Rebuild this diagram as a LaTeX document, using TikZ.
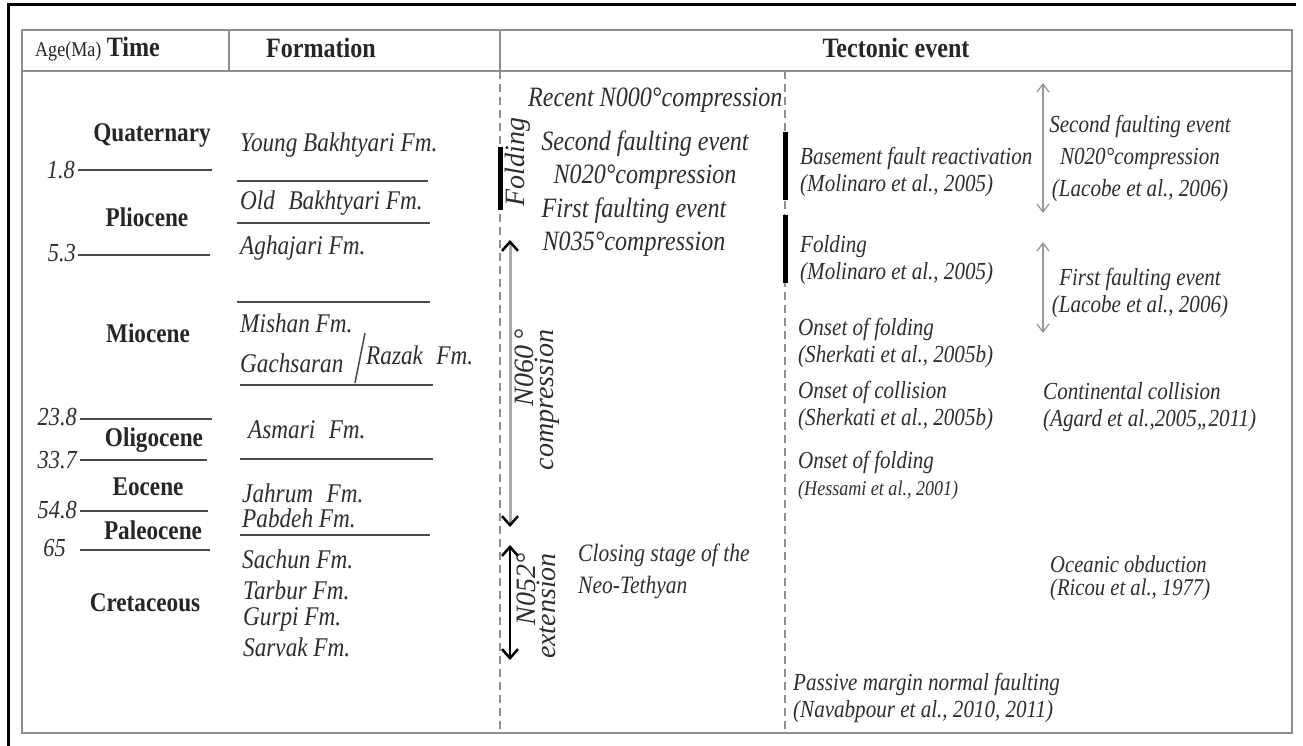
\documentclass[tikz,border=0pt]{standalone}
\usepackage{fontspec}
\setmainfont{Liberation Serif}[FakeStretch=0.86]
\newfontfamily\fullserif{Liberation Serif}
\usetikzlibrary{arrows.meta}

\definecolor{ink}{HTML}{2E2E2E}
\definecolor{rulegray}{HTML}{4A4A4A}
\definecolor{framegray}{HTML}{8E8E8E}
\definecolor{shaftgray}{HTML}{AAAAAA}

\tikzset{
  every node/.style={inner sep=0pt},
  head/.style={font=\fontsize{28}{28}\selectfont\bfseries, text=black!85},
  epoch/.style={font=\fontsize{27}{27}\selectfont\bfseries, text=black!85},
  agelbl/.style={font=\fontsize{26}{26}\selectfont\itshape, text=ink, anchor=east},
  fmname/.style={font=\fontsize{27}{27}\selectfont\itshape, text=ink, anchor=west},
  evmid/.style={font=\fontsize{28}{33}\selectfont\itshape, text=ink, align=center},
  evtext/.style={font=\fontsize{24.5}{27}\selectfont\itshape, text=ink, align=left, anchor=west},
  vlabel/.style={font=\fullserif\fontsize{28}{20}\selectfont\itshape, text=ink, rotate=90, align=right},
  boundary/.style={draw=rulegray, line width=2pt},
  colsep/.style={draw=framegray, line width=2pt, dash pattern=on 8pt off 5pt},
  eventbar/.style={draw=black, line width=5pt},
  chev/.tip={Straight Barb[color=black, length=9pt, width=16pt, line width=2.5pt]},
  thin chev/.tip={Straight Barb[length=8pt, width=12pt, line width=1.3pt]},
  stressarrow/.style={draw=shaftgray, line width=3pt, chev-chev},
  extarrow/.style={draw=black, line width=1.5pt, chev-chev},
  eventarrow/.style={draw=gray!80, line width=1.5pt, thin chev-thin chev}
}

\begin{document}
\begin{tikzpicture}[x=1pt,y=-1pt]
\useasboundingbox (0,0) rectangle (1303,746);

% frame and columns
\draw[black, line width=3pt] (8,746) -- (8,5) -- (1296,5);
\draw[framegray, line width=2pt] (22,30) rectangle (1292,733);
\draw[framegray, line width=2pt] (22,71) -- (1292,71);
\draw[framegray, line width=2pt] (229,30) -- (229,71);
\draw[framegray, line width=2pt] (500,30) -- (500,71);
\draw[colsep] (500,71) -- (500,733);
\draw[colsep] (785,71) -- (785,733);

\node[anchor=base west, font=\fontsize{21}{21}\selectfont, text=black!85] (agehd) at (35,57) {Age(Ma)};
\node[head, anchor=base west] (timehd) at ([xshift=5pt]agehd.base east) {Time};
\node[head] (fmhd) at (321,48) {Formation};
\node[head] (tecthd) at (896,48) {Tectonic event};

% time scale
\node[epoch] (quat) at (152,135) {Quaternary};
\node[epoch] (plio) at (147,217) {Pliocene};
\node[epoch] (mio) at (148,333) {Miocene};
\node[epoch] (oligo) at (154,440) {Oligocene};
\node[epoch] (eoc) at (148,487) {Eocene};
\node[epoch] (paleo) at (153,530) {Paleocene};
\node[epoch] (creta) at (145,603) {Cretaceous};

\node[agelbl] (a1) at (75,170) {1.8};
\node[agelbl] (a2) at (76,253) {5.3};
\node[agelbl] (a3) at (77,417) {23.8};
\node[agelbl] (a4) at (77,460) {33.7};
\node[agelbl] (a5) at (77,510) {54.8};
\node[agelbl] (a6) at (66,548) {65};

\foreach \yy/\xa/\xb in {170/78/212, 255/78/210, 419/80/212, 460/80/207, 511/80/208, 550/80/210}
  \draw[boundary] (\xa,\yy) -- (\xb,\yy);

% formations
\node[fmname] (youngb) at (240,145) {Young Bakhtyari Fm.};
\node[fmname] (oldb) at (240,203) {Old\enspace Bakhtyari Fm.};
\node[fmname] (aghaj) at (240,248) {Aghajari Fm.};
\node[fmname] (mishan) at (240,323) {Mishan Fm.};
\node[fmname] (gachs) at (240,363) {Gachsaran};
\node[fmname] (razak) at (366,355) {Razak\enspace Fm.};
\node[fmname] (asmari) at (248,430) {Asmari\enspace Fm.};
\node[fmname] (jahrum) at (242,493) {Jahrum\enspace Fm.};
\node[fmname] (pabdeh) at (242,518) {Pabdeh Fm.};
\node[fmname] (sachun) at (242,559) {Sachun Fm.};
\node[fmname] (tarbur) at (243,590) {Tarbur Fm.};
\node[fmname] (gurpi) at (243,619) {Gurpi Fm.};
\node[fmname] (sarvak) at (243,647) {Sarvak Fm.};

\foreach \yy/\xa/\xb in {181/237/428, 223/237/430, 302/237/430, 385/240/433, 459/240/433, 535/240/430}
  \draw[boundary] (\xa,\yy) -- (\xb,\yy);
\draw[rulegray, line width=1.5pt] (365,333) -- (355,383);

% regional stress
\node[vlabel, font=\fullserif\fontsize{28}{28}\selectfont\itshape] (fold) at (518,162) {Folding};
\draw[eventbar] (500,147) -- (500,210);
\node[evmid, anchor=west] (recent) at (528,100) {Recent N000°compression};
\node[evmid] (second) at (645,160) {Second faulting event\\N020°compression};
\node[evmid] (first) at (634,227) {First faulting event\\N035°compression};

\coordinate (cmptop) at (510,240);
\coordinate (cmpbot) at (510,527);
\draw[stressarrow] (cmptop) -- (cmpbot);
\node[vlabel] (cmplbl) at (537,400) {N060\,°\\compression};

\coordinate (exttop) at (510,545);
\coordinate (extbot) at (510,660);
\draw[extarrow] (exttop) -- (extbot);
\node[vlabel] (extlbl) at (536,606) {N052°\\extension};
\node[evtext, font=\fontsize{25}{32}\selectfont\itshape] (closing) at (578,571) {Closing stage of the\\Neo-Tethyan};

% events
\draw[eventbar] (785,132) -- (785,200);
\draw[eventbar] (785,215) -- (785,283);
\node[evtext] (basement) at (800,172) {Basement fault reactivation\\(Molinaro et al., 2005)};
\node[evtext] (foldmol) at (800,260) {Folding\\(Molinaro et al., 2005)};
\node[evtext] (onsetf) at (798,343) {Onset of folding\\(Sherkati et al., 2005b)};
\node[evtext] (onsetc) at (798,406) {Onset of collision\\(Sherkati et al., 2005b)};
\node[evtext] (onseth) at (798,476) {Onset of folding\\{\fontsize{21}{21}\selectfont(Hessami et al., 2001)}};
\node[evtext] (passive) at (793,698) {Passive margin normal faulting\\(Navabpour et al., 2010, 2011)};

\coordinate (s2top) at (1043,83);
\coordinate (s2bot) at (1043,213);
\draw[eventarrow] (s2top) -- (s2bot);
\node[evtext, font=\fontsize{24.5}{32}\selectfont\itshape, align=center, anchor=center] (second2) at (1140,158) {Second faulting event\\N020°compression\\(Lacobe et al., 2006)};
\coordinate (f2top) at (1043,242);
\coordinate (f2bot) at (1043,333);
\draw[eventarrow] (f2top) -- (f2bot);
\node[evtext, align=center, anchor=center] (first2) at (1140,293) {First faulting event\\(Lacobe et al., 2006)};
\node[evtext] (contcoll) at (1043,407) {Continental collision\\(Agard et al.,2005,,2011)};
\node[evtext, font=\fontsize{24}{23}\selectfont\itshape] (obduct) at (1050,578) {Oceanic obduction\\(Ricou et al., 1977)};
\end{tikzpicture}
\end{document}
